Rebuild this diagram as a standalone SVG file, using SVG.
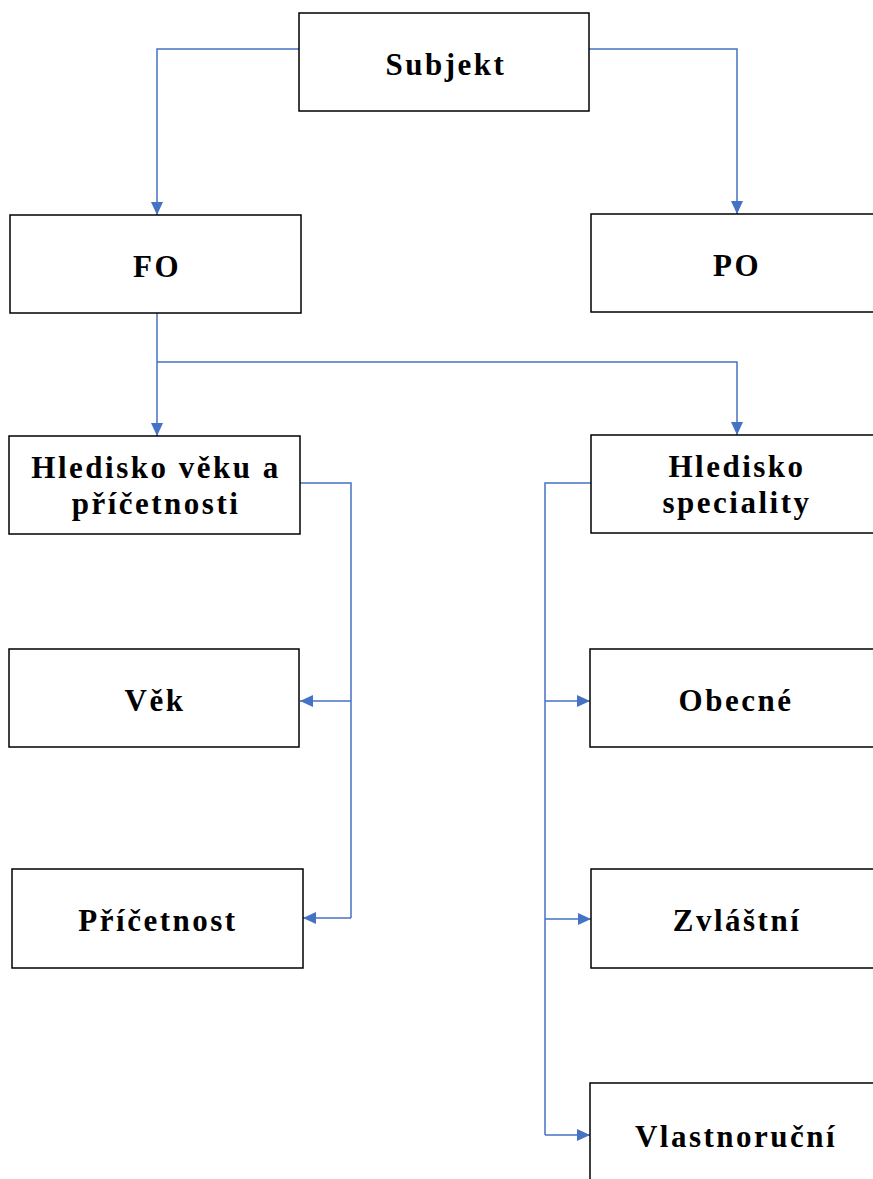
<svg xmlns="http://www.w3.org/2000/svg" width="873" height="1179" viewBox="0 0 873 1179">
<style>
.box{fill:#ffffff;stroke:#000000;stroke-width:1.5}
.lbl{font-family:"Liberation Serif","Times New Roman",serif;font-weight:bold;font-size:31px;letter-spacing:2.5px;fill:#000000;text-anchor:middle}
.con{fill:none;stroke:#4472C4;stroke-width:1.5}
</style>
<defs>
<marker id="arr" markerUnits="userSpaceOnUse" markerWidth="14" markerHeight="14" viewBox="0 0 14 14" refX="14" refY="7" orient="auto">
<path d="M1,1 L14,7 L1,13 Z" fill="#4472C4"/>
</marker>
</defs>
<rect width="873" height="1179" fill="#ffffff"/>
<g id="connectors">
<path class="con" d="M299,49 H157 V215" marker-end="url(#arr)"/>
<path class="con" d="M589,49 H737 V214" marker-end="url(#arr)"/>
<path class="con" d="M157,313 V436" marker-end="url(#arr)"/>
<path class="con" d="M157,362 H737 V435" marker-end="url(#arr)"/>
<path class="con" d="M300,483 H351 V918"/>
<path class="con" d="M351,701 H300" marker-end="url(#arr)"/>
<path class="con" d="M351,918 H303" marker-end="url(#arr)"/>
<path class="con" d="M591,483 H545 V1135"/>
<path class="con" d="M545,701 H590" marker-end="url(#arr)"/>
<path class="con" d="M545,919 H591" marker-end="url(#arr)"/>
<path class="con" d="M545,1135 H590" marker-end="url(#arr)"/>
</g>
<g id="subjekt"><rect class="box" x="299" y="13" width="290" height="98"/><text class="lbl" x="446" y="75">Subjekt</text></g>
<g id="fo"><rect class="box" x="10" y="215" width="291" height="98"/><text class="lbl" x="157" y="277">FO</text></g>
<g id="po"><rect class="box" x="591" y="214" width="290" height="98"/><text class="lbl" x="737" y="276">PO</text></g>
<g id="hledisko-veku"><rect class="box" x="9" y="436" width="291" height="98"/><text class="lbl" x="156" y="478">Hledisko věku a</text><text class="lbl" x="156" y="514">příčetnosti</text></g>
<g id="hledisko-speciality"><rect class="box" x="591" y="435" width="290" height="98"/><text class="lbl" x="737" y="477">Hledisko</text><text class="lbl" x="737" y="513">speciality</text></g>
<g id="vek"><rect class="box" x="9" y="649" width="290" height="98"/><text class="lbl" x="155" y="711">Věk</text></g>
<g id="obecne"><rect class="box" x="590" y="649" width="290" height="98"/><text class="lbl" x="736" y="711">Obecné</text></g>
<g id="pricetnost"><rect class="box" x="12" y="869" width="291" height="99"/><text class="lbl" x="158" y="931">Příčetnost</text></g>
<g id="zvlastni"><rect class="box" x="591" y="869" width="290" height="99"/><text class="lbl" x="737" y="931">Zvláštní</text></g>
<g id="vlastnorucni"><rect class="box" x="590" y="1083" width="290" height="120"/><text class="lbl" x="736" y="1147">Vlastnoruční</text></g>
</svg>
